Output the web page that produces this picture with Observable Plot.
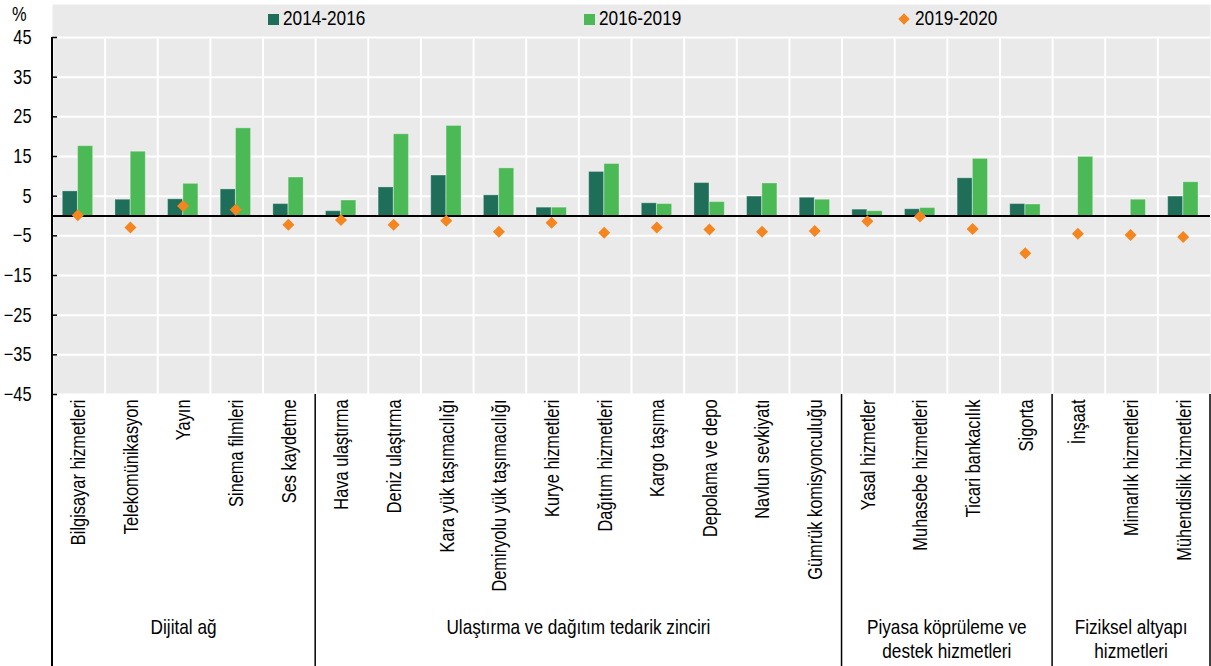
<!DOCTYPE html>
<html><head><meta charset="utf-8">
<script src="https://cdn.jsdelivr.net/npm/d3@7"></script>
<script src="https://cdn.jsdelivr.net/npm/@observablehq/plot@0.6"></script>
<style>
body{margin:0;background:#fff;font-family:"Liberation Sans",Arial,sans-serif;}
#wrap{position:relative;width:1211px;height:666px;overflow:hidden;}
.leg{position:absolute;top:5px;font-size:21px;color:#000;line-height:26px;white-space:nowrap;transform:scaleX(0.82);transform-origin:left center;}
.sw{position:absolute;}
#pct{position:absolute;left:12px;top:3px;font-size:20px;transform:scaleX(0.82);transform-origin:left center;}
</style></head><body><div id="wrap"></div>
<script>
const categories = ["Bilgisayar hizmetleri","Telekomünikasyon","Yayın","Sinema filmleri","Ses kaydetme","Hava ulaştırma","Deniz ulaştırma","Kara yük taşımacılığı","Demiryolu yük taşımacılığı","Kurye hizmetleri","Dağıtım hizmetleri","Kargo taşıma","Depolama ve depo","Navlun sevkiyatı","Gümrük komisyonculuğu","Yasal hizmetler","Muhasebe hizmetleri","Ticari bankacılık","Sigorta","İnşaat","Mimarlık hizmetleri","Mühendislik hizmetleri"];
const groupOf = ["Dijital ağ","Dijital ağ","Dijital ağ","Dijital ağ","Dijital ağ","Ulaştırma ve dağıtım tedarik zinciri","Ulaştırma ve dağıtım tedarik zinciri","Ulaştırma ve dağıtım tedarik zinciri","Ulaştırma ve dağıtım tedarik zinciri","Ulaştırma ve dağıtım tedarik zinciri","Ulaştırma ve dağıtım tedarik zinciri","Ulaştırma ve dağıtım tedarik zinciri","Ulaştırma ve dağıtım tedarik zinciri","Ulaştırma ve dağıtım tedarik zinciri","Ulaştırma ve dağıtım tedarik zinciri","Piyasa köprüleme ve destek hizmetleri","Piyasa köprüleme ve destek hizmetleri","Piyasa köprüleme ve destek hizmetleri","Piyasa köprüleme ve destek hizmetleri","Fiziksel altyapı hizmetleri","Fiziksel altyapı hizmetleri","Fiziksel altyapı hizmetleri"];
const groupNames = ["Dijital ağ","Ulaştırma ve dağıtım tedarik zinciri","Piyasa köprüleme ve destek hizmetleri","Fiziksel altyapı hizmetleri"];
const groupLabels = [["Dijital ağ"],["Ulaştırma ve dağıtım tedarik zinciri"],["Piyasa köprüleme ve","destek hizmetleri"],["Fiziksel altyapı","hizmetleri"]];
const seriesNames = ["2014-2016","2016-2019","2019-2020"];
const v2014_2016 = [6.2,4.1,4.2,6.7,3.0,1.2,7.2,10.2,5.2,2.1,11.1,3.2,8.3,4.9,4.6,1.6,1.7,9.5,3.0,0.1,0,4.9];
const v2016_2019 = [17.6,16.2,8.1,22.1,9.7,3.9,20.6,22.7,12.0,2.1,13.1,3.0,3.5,8.2,4.1,1.2,2.0,14.4,2.9,14.9,4.1,8.5];
const v2019_2020 = [0.2,-2.9,2.5,1.6,-2.2,-1.0,-2.2,-1.2,-4.0,-1.7,-4.2,-2.9,-3.4,-4.0,-3.8,-1.3,-0.1,-3.3,-9.4,-4.5,-4.8,-5.3];
const yTicks = [-45,-35,-25,-15,-5,5,15,25,35,45];

const C1 = "#1e6e5a", C2 = "#4cb957", C3 = "#f5861f", BG = "#eaeaea";
const W = 1211, H = 666, ML = 52, MR = 1, MT = 37, MB = 272;
const bw = (W - ML - MR) / categories.length;
const NARROW = 0.82;

const rows = categories.map((c, i) => ({cat: c, a: v2014_2016[i], b: v2016_2019[i], c: v2019_2020[i]}));
const FONT = '"Liberation Sans",Arial,sans-serif';

const chart = Plot.plot({
  width: W, height: H,
  marginLeft: ML, marginRight: MR, marginTop: MT, marginBottom: MB,
  style: {fontFamily: FONT, background: "transparent", color: "#000"},
  x: {type: "band", domain: categories, padding: 0, round: false, label: null},
  y: {domain: [-45, 45], label: null},
  marks: [
    Plot.frame({fill: BG, insetTop: -33}),
    Plot.gridY(yTicks, {stroke: "#fff", strokeOpacity: 1, strokeWidth: 2}),
    Plot.gridX({stroke: "#fff", strokeOpacity: 1, strokeWidth: 2, dx: -bw / 2}),
    Plot.barY(rows, {x: "cat", y: "a", fill: C1, stroke: "rgba(255,255,255,0.3)", strokeWidth: 1, insetLeft: 10.3, insetRight: 27.3}),
    Plot.barY(rows, {x: "cat", y: "b", fill: C2, stroke: "rgba(255,255,255,0.3)", strokeWidth: 1, insetLeft: 25.6, insetRight: 12}),
    Plot.ruleY([0], {stroke: "#000", strokeWidth: 2}),
    Plot.dot(rows, {x: "cat", y: "c", symbol: "diamond2", r: 5.4, fill: C3, dx: -1}),
    Plot.axisY(yTicks, {tickSize: -5, tickPadding: 26, fontSize: 20, stroke: "#000", strokeWidth: 1.5, label: null}),
    Plot.axisX({tickRotate: -90, tickSize: 0, tickPadding: 5, fontSize: 20, label: null})
  ]
});

const wrap = document.getElementById("wrap");
wrap.appendChild(chart);

const svg = d3.select(chart);
// emulate a narrow face on the axis labels
svg.selectAll('g[aria-label="x-axis tick label"] text, g[aria-label="y-axis tick label"] text').each(function() {
  const t = this.getAttribute("transform") || "";
  this.setAttribute("transform", t + ` scale(${NARROW},1)`);
});

// overlays drawn from the chart's own scales
const xs = chart.scale("x"), ys = chart.scale("y");
const x0 = c => xs.apply(c), x1 = c => xs.apply(c) + xs.bandwidth;
const yTop = ys.apply(45), yBot = ys.apply(-45);
const g = svg.append("g");
g.append("line").attr("x1", ML).attr("x2", ML).attr("y1", yTop).attr("y2", H).attr("stroke", "#000").attr("stroke-width", 2);
groupNames.forEach((name, gi) => {
  const cats = categories.filter((c, i) => groupOf[i] === name);
  const a = x0(cats[0]), b = x1(cats[cats.length - 1]);
  g.append("line").attr("x1", b).attr("x2", b).attr("y1", yBot).attr("y2", H).attr("stroke", "#000").attr("stroke-width", 1.5);
  groupLabels[gi].forEach((line, li) => {
    g.append("text").attr("text-anchor", "middle").attr("font-size", 21).attr("font-family", FONT)
      .attr("transform", `translate(${(a + b) / 2},${634 + li * 24}) scale(${NARROW},1)`).text(line);
  });
});

// legend (html)
const leg = [
  {name: seriesNames[0], kind: "sq", color: C1, sx: 268, tx: 283},
  {name: seriesNames[1], kind: "sq", color: C2, sx: 584, tx: 599},
  {name: seriesNames[2], kind: "dm", color: C3, sx: 900, tx: 915}
];
leg.forEach(d => {
  const s = document.createElement("div");
  s.className = "sw";
  s.style.left = d.sx + "px";
  s.style.background = d.color;
  if (d.kind === "sq") { s.style.top = "14px"; s.style.width = "11px"; s.style.height = "11px"; }
  else { s.style.top = "15px"; s.style.width = "8px"; s.style.height = "8px"; s.style.transform = "rotate(45deg)"; }
  wrap.appendChild(s);
  const t = document.createElement("div");
  t.className = "leg"; t.style.left = d.tx + "px"; t.textContent = d.name;
  wrap.appendChild(t);
});
const p = document.createElement("div"); p.id = "pct"; p.textContent = "%"; wrap.appendChild(p);
</script>
</body></html>
